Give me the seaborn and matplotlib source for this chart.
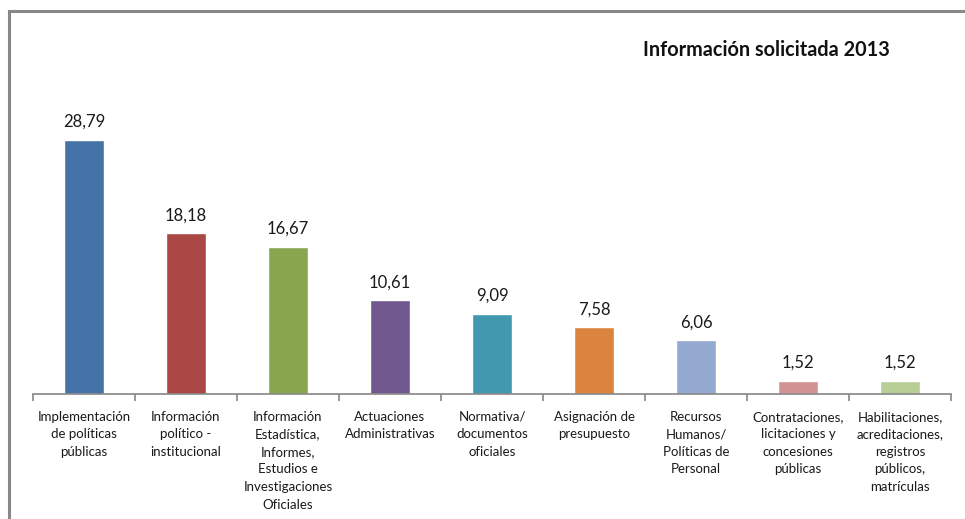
import matplotlib
matplotlib.use("Agg")
import matplotlib.pyplot as plt
import seaborn as sns
import numpy as np
import pandas as pd
from matplotlib.lines import Line2D

categories = [
    "Implementación\nde políticas\npúblicas",
    "Información\npolítico -\ninstitucional",
    "Información\nEstadística,\nInformes,\nEstudios e\nInvestigaciones\nOficiales",
    "Actuaciones\nAdministrativas",
    "Normativa/\ndocumentos\noficiales",
    "Asignación de\npresupuesto",
    "Recursos\nHumanos/\nPolíticas de\nPersonal",
    "Contrataciones,\nlicitaciones y\nconcesiones\npúblicas",
    "Habilitaciones,\nacreditaciones,\nregistros\npúblicos,\nmatrículas",
]
values = [28.79, 18.18, 16.67, 10.61, 9.09, 7.58, 6.06, 1.52, 1.52]
colors = ["#4572A7", "#AA4643", "#89A54E", "#71588F", "#4198AF",
          "#DB843D", "#93A9CF", "#D19392", "#B9CD96"]
title = "Información solicitada 2013"

sns.set_theme(style="white")
plt.rcParams['font.family'] = ['Lato', 'DejaVu Sans']

W, H = 965, 519
fig = plt.figure(figsize=(W / 100, H / 100), dpi=100)
ax = fig.add_axes([33 / W, (H - 394) / H, (951 - 33) / W, (394 - 85) / H])

df = pd.DataFrame({"cat": categories, "val": values})
sns.barplot(data=df, x="cat", y="val", hue="cat", palette=colors,
            legend=False, width=0.39, ax=ax, saturation=1)

ax.set_xlim(-0.5, len(categories) - 0.5)
ax.set_ylim(0, 35)
ax.set_xlabel("")
ax.set_ylabel("")
ax.set_yticks([])
for s in ["top", "right", "left"]:
    ax.spines[s].set_visible(False)
ax.spines["bottom"].set_color("#868686")
ax.spines["bottom"].set_linewidth(1.2)

ax.set_xticks(np.arange(len(categories)))
ax.set_xticklabels(categories, fontsize=9.5, color="#1a1a1a", linespacing=1.56)
ax.set_xticks(np.arange(-0.5, len(categories), 1), minor=True)
ax.tick_params(axis="x", which="major", length=0, pad=12)
ax.tick_params(axis="x", which="minor", length=5, width=1.2, color="#868686", direction="out")
ax.xaxis.set_ticks_position("bottom")

for c in ax.containers:
    ax.bar_label(c, labels=[f"{v:.2f}".replace(".", ",") for v in c.datavalues],
                 padding=7, fontsize=12, color="#1a1a1a")

fig.text(890 / W, 1 - 50 / H, title, ha="right", va="center",
         fontsize=14.3, fontweight="bold", color="#111111")

# outer chart-area border (left and top edges visible)
fig.add_artist(Line2D([8.5 / W, 8.5 / W, 1.0], [0.0, 1 - 11 / H, 1 - 11 / H],
                      transform=fig.transFigure, color="#888888", lw=2.2,
                      solid_joinstyle="miter"))

fig.savefig("out.png", dpi=100)
